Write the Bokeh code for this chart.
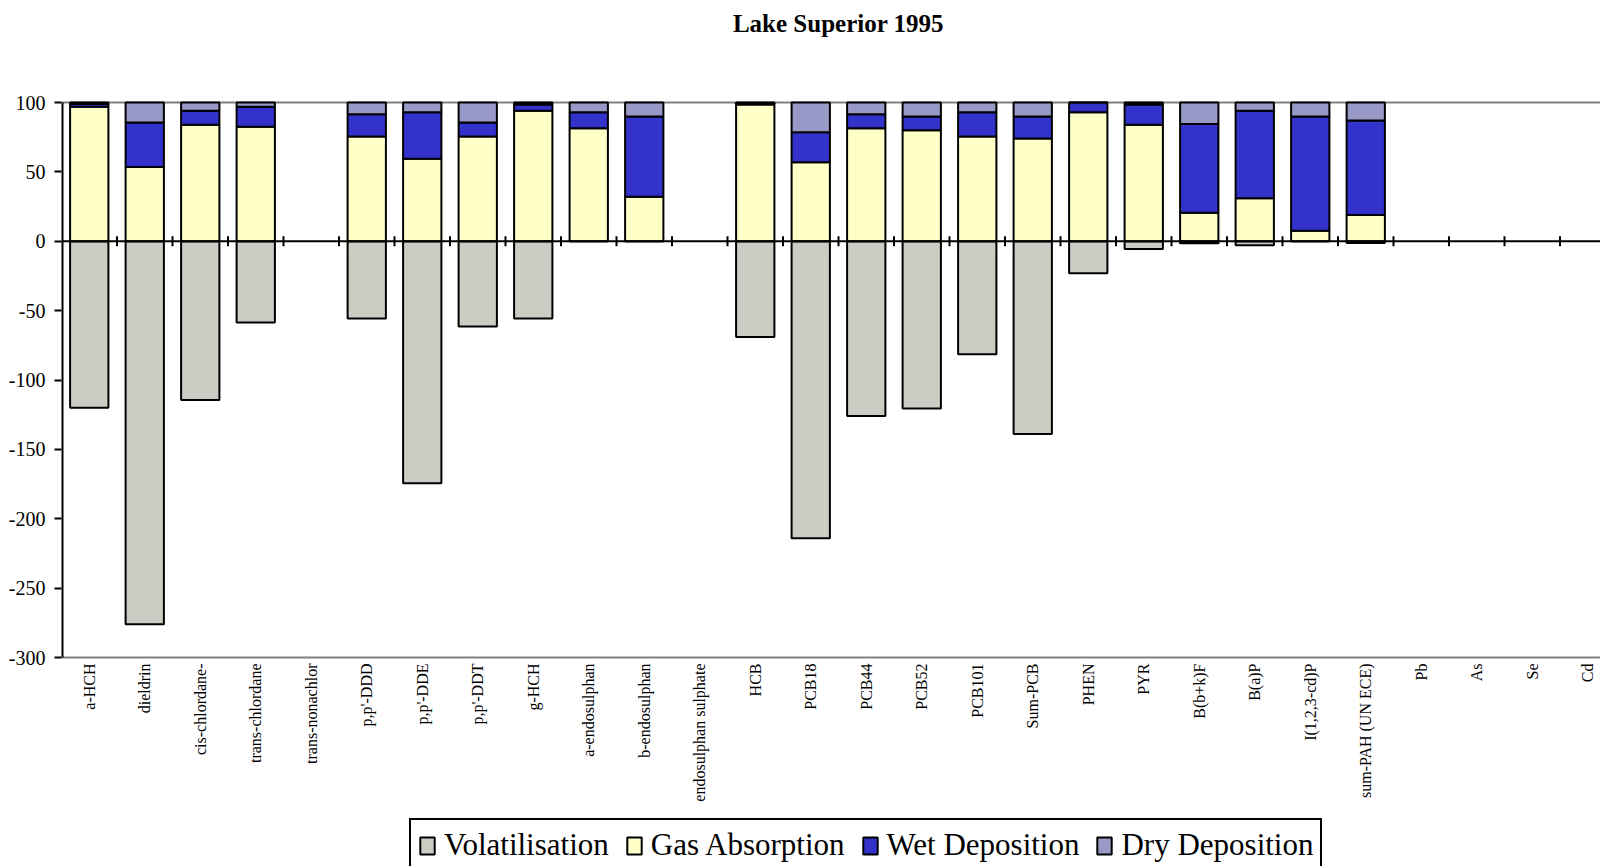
import math
from bokeh.plotting import figure
from bokeh.models import (Range1d, FixedTicker, CustomJSTickFormatter, Span,
                          Legend, LegendItem, ColumnDataSource, Label)
from bokeh.core.properties import value
from bokeh.embed import file_html
from bokeh.resources import INLINE
import numpy as np

categories = ["a-HCH", "dieldrin", "cis-chlordane-", "trans-chlordane", "trans-nonachlor",
              "p,p'-DDD", "p,p'-DDE", "p,p'-DDT", "g-HCH", "a-endosulphan", "b-endosulphan",
              "endosulphan sulphate", "HCB", "PCB18", "PCB44", "PCB52", "PCB101", "Sum-PCB",
              "PHEN", "PYR", "B(b+k)F", "B(a)P", "I(1,2,3-cd)P", "sum-PAH (UN ECE)",
              "Pb", "As", "Se", "Cd"]
# None = no value shown for that substance
volatilisation = [-120, -276, -114.5, -58.5, None, -55.7, -174.5, -61.5, -55.7, 0, 0, None,
                  -69, -214, -126, -120.5, -81.5, -139, -23, -5.5, -1.4, -2.9, 0, -1.2,
                  None, None, None, None]
gas_absorption = [97, 53.5, 84, 82.5, None, 75.5, 59.5, 75.5, 94, 81.5, 32, None,
                  98.5, 57, 81.5, 80, 75.5, 74, 93, 84, 20.5, 31, 7.5, 19,
                  None, None, None, None]
wet_deposition = [2, 32, 10, 14.5, None, 16, 33.5, 10, 4.5, 11.5, 58, None,
                  1, 21.5, 10, 10, 17.5, 16, 7, 14.5, 64, 63, 82.5, 68,
                  None, None, None, None]
dry_deposition = [1, 14.5, 6, 3, None, 8.5, 7, 14.5, 1.5, 7, 10, None,
                  0.5, 21.5, 8.5, 10, 7, 10, 0, 1.5, 15.5, 6, 10, 13,
                  None, None, None, None]
y_ticks = [-300, -250, -200, -150, -100, -50, 0, 50, 100]
y_min, y_max = -300, 100
title_text = "Lake Superior 1995"
series_names = ["Volatilisation", "Gas Absorption", "Wet Deposition", "Dry Deposition"]
colors = ["#CCCCC4", "#FFFFC8", "#3333CC", "#9999C8"]

FONT = "Liberation Serif"

# layout (pixels in the canvas)
W, H = 1600, 866
LEFT = 61
PLOT_TOP, PLOT_BOTTOM = 102, 657            # where y_max and y_min sit
CAT_W = 55.5                                # pixel width of one category
TITLE_Y = 22.5
ppu = (PLOT_BOTTOM - PLOT_TOP) / (y_max - y_min)
y_top = y_max + PLOT_TOP / ppu
y_bot = y_min - (H - PLOT_BOTTOM) / ppu
x_end = (W - LEFT) / CAT_W

n = len(categories)
fl = lambda a: np.array(a, dtype=float)
src = ColumnDataSource(dict(
    x=np.arange(n) + 0.5, name=categories,
    vol=fl(volatilisation), gas=fl(gas_absorption), wet=fl(wet_deposition),
    dry=fl(dry_deposition),
))

p = figure(width=W, height=H, output_backend="svg", toolbar_location=None,
           x_range=Range1d(0, x_end), y_range=Range1d(y_bot, y_top),
           min_border_left=LEFT, min_border_right=0, min_border_top=0, min_border_bottom=0)
p.outline_line_color = None
p.xgrid.visible = False
p.ygrid.visible = False
p.xaxis.visible = False
p.background_fill_color = "white"
p.border_fill_color = "white"

p.add_layout(Span(location=y_max, dimension="width", line_color="#808080", line_width=2,
                  level="underlay"))
p.add_layout(Span(location=y_min, dimension="width", line_color="#808080", line_width=2,
                  level="underlay"))

bw = 0.69
vol_r = p.vbar(x="x", top=0, bottom="vol", width=bw, source=src,
               fill_color=colors[0], line_color="black", line_width=2)
stack = p.vbar_stack(["gas", "wet", "dry"], x="x", width=bw, source=src,
                     fill_color=colors[1:], line_color="black", line_width=2)

# zero line with category boundary ticks
p.add_layout(Span(location=0, dimension="width", line_color="black", line_width=2))
th = 5 / ppu
bounds = list(range(1, n))
p.segment(x0=bounds, y0=[-th] * len(bounds), x1=bounds, y1=[th] * len(bounds),
          line_color="black", line_width=2)

# value axis line (only between y_min and y_max)
p.segment(x0=[0], y0=[y_min], x1=[0], y1=[y_max], line_color="black", line_width=4)

ya = p.yaxis[0]
ya.ticker = FixedTicker(ticks=y_ticks)
ya.formatter = CustomJSTickFormatter(code="return tick.toString();")
ya.major_label_text_font = FONT
ya.major_label_text_font_size = "20px"
ya.major_label_text_color = "black"
ya.axis_line_color = None
ya.major_tick_line_width = 2
ya.major_tick_line_color = "black"
ya.major_tick_in = 0
ya.major_tick_out = 7
ya.minor_tick_line_color = None
ya.major_label_standoff = 9

# category labels
p.text(x="x", y=y_min, text="name", source=src, angle=math.pi / 2,
       text_align="right", text_baseline="middle", y_offset=6,
       text_font=value(FONT), text_font_size="16px", text_color="black")

p.add_layout(Label(x=n / 2, y=y_max + (PLOT_TOP - TITLE_Y) / ppu, text=title_text,
                   text_align="center", text_baseline="middle",
                   text_font=FONT, text_font_style="bold", text_font_size="25px",
                   text_color="black"))

legend = Legend(items=[
    LegendItem(label=series_names[0], renderers=[vol_r]),
    LegendItem(label=series_names[1], renderers=[stack[0]]),
    LegendItem(label=series_names[2], renderers=[stack[1]]),
    LegendItem(label=series_names[3], renderers=[stack[2]]),
], orientation="horizontal", location=(348, -6))
legend.label_text_font = FONT
legend.label_text_font_size = "31px"
legend.label_text_color = "black"
legend.glyph_width = 18
legend.glyph_height = 21
legend.label_standoff = 8
legend.spacing = 16
legend.padding = 7
legend.margin = 0
legend.border_line_color = "black"
legend.border_line_alpha = 1
legend.border_line_width = 2
legend.background_fill_alpha = 1
p.add_layout(legend, "center")

open("out.html", "w").write(file_html(p, INLINE))
